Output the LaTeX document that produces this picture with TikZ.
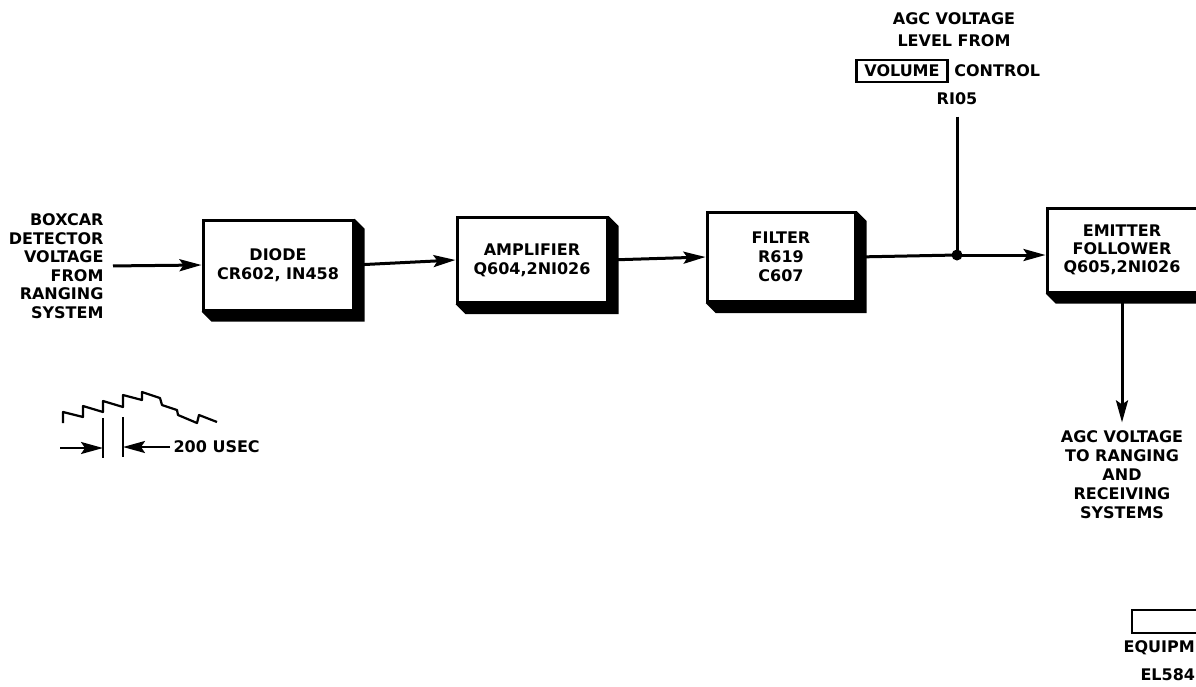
\documentclass[tikz,border=0pt]{standalone}
\usepackage{fontspec}
\newfontfamily\lettering{DejaVu Sans}
\usetikzlibrary{arrows.meta, calc, positioning}

\tikzset{
  block/.style={draw, line width=3pt, fill=white, minimum width=150pt, align=center, inner sep=2pt},
  wire/.style={line width=3pt},
  flow/.style={wire, -{Stealth[length=22pt, width=12pt, inset=4pt]}},
}
% drop shadow below and right of a block
\newcommand{\blockshadow}[1]{%
  \fill (#1.north east) -- ++(10,10) -- ($(#1.south east)+(10,10)$)
    -- ($(#1.south west)+(10,10)$) -- (#1.south west) -- (#1.south east) -- cycle;}

\begin{document}
\begin{tikzpicture}[x=1pt, y=-1pt, font=\lettering\bfseries\fontsize{16}{19}\selectfont]
\useasboundingbox (0,0) rectangle (1196,686);
\clip (0,0) rectangle (1196,686);

% Blocks
\node[block, minimum height=90pt] (diode) at (278,265) {DIODE\\CR602, IN458};
\node[block, minimum height=85pt] (amp) at (532,260) {AMPLIFIER\\Q604,2NI026};
\node[block, minimum height=89pt, minimum width=148pt] (filter) at (781,257) {FILTER\\R619\\C607};
\node[block, minimum height=84pt, font=\lettering\bfseries\fontsize{16}{18}\selectfont] (emitter) at (1122,250) {EMITTER\\FOLLOWER\\Q605,2NI026};
\blockshadow{diode}
\blockshadow{amp}
\blockshadow{filter}
\blockshadow{emitter}

% Input and output texts
\node[anchor=east, align=right, font=\lettering\bfseries\fontsize{16}{18.5}\selectfont] (boxcar) at (107,266)
  {BOXCAR\\DETECTOR\\VOLTAGE\\FROM\\RANGING\\SYSTEM};
\node[align=center] (agcout) at (1122,475) {AGC VOLTAGE\\TO RANGING\\AND\\RECEIVING\\SYSTEMS};

% AGC level from volume control
\node[align=center, font=\lettering\bfseries\fontsize{16}{22}\selectfont] (agcin) at (954,30) {AGC VOLTAGE\\LEVEL FROM};
\node[draw, line width=2.5pt, inner xsep=8pt, inner ysep=5pt] (volume) at (902,71) {VOLUME};
\node[right=2pt of volume] (control) {CONTROL};
\node (r105) at (957,99) {RI05};
\coordinate (junct) at (957,255);

% Connectors
\draw[flow, shorten <=6pt] (boxcar.east) -- (diode.west);
\draw[flow] (diode.east) -- (amp.west);
\draw[flow] (amp.east) -- (filter.west);
\draw[wire] (filter.east) -- (junct);
\draw[wire, shorten <=8pt] (r105.south) -- (junct);
\draw[flow] (junct) -- (junct -| emitter.west);
\fill (junct) circle (5.5);
\draw[flow, shorten >=5pt] (emitter.south) -- (agcout.north);

% Waveform
\draw[line width=2.2pt, line join=round] (63,423) -- (63,412) -- (83,417) -- (83,406) -- (103,412) -- (103,401)
  -- (123,407) -- (123,395) -- (142,400) -- (142,392) -- (160,398) -- (162,405) -- (177,410) -- (178,415)
  -- (197,423) -- (199,415) -- (217,422);
\draw[line width=2.2pt] (103,418) -- (103,458);
\draw[line width=2.2pt] (123,417) -- (123,457);
\coordinate (dimstart) at (60,448);
\coordinate (tickL) at (103,448);
\coordinate (tickR) at (123,447);
\node[anchor=west] (usec) at (170,447) {200 USEC};
\draw[flow, line width=2.2pt] (dimstart) -- (tickL);
\draw[flow, line width=2.2pt] (usec.west) -- (tickR);

% Equipment legend (cut off at the edge)
\draw[line width=2.5pt] (1132,610) rectangle (1215,633);
\node[anchor=east, inner sep=0pt] (equip) at (1195,648) {EQUIPM};
\node[anchor=west] (elnum) at (1137,675) {EL584};
\end{tikzpicture}
\end{document}
